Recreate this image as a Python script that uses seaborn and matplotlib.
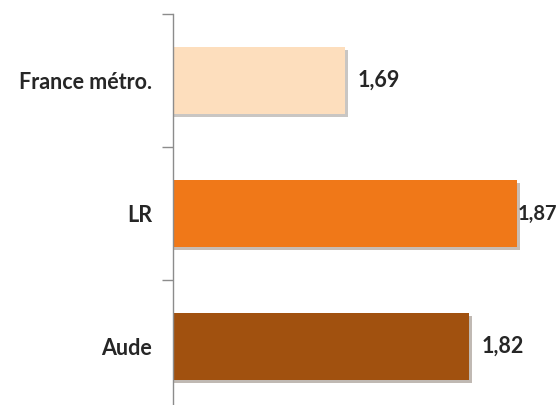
import matplotlib
matplotlib.use("Agg")
import matplotlib.pyplot as plt
import matplotlib.patheffects as pe
import seaborn as sns

# données
categories = ["France métro.", "LR", "Aude"]
values = [1.69, 1.87, 1.82]
value_labels = ["1,69", "1,87", "1,82"]
colors = ["#FDDEBD", "#F07818", "#A1510F"]

sns.set_style("white")
plt.rcParams["font.family"] = ["Lato", "DejaVu Sans"]

fig = plt.figure(figsize=(5.59, 4.05), dpi=100)
ax = fig.add_axes([173 / 559, -8 / 405, 386 / 559, 399 / 405])

sns.barplot(x=values, y=categories, hue=categories, palette=colors,
            legend=False, orient="h", width=0.5, ax=ax, saturation=1,
            edgecolor="none", linewidth=0)

# ombre portée sous les barres
for bar in ax.patches:
    bar.set_path_effects([pe.SimplePatchShadow(offset=(2, -2), alpha=0.3),
                          pe.Normal()])

ax.set_xlim(1.51, 1.51 + 386 / 955)
ax.set_ylim(2.5, -0.5)

# graduations aux limites des catégories, libellés au centre
ax.set_yticks([-0.5, 0.5, 1.5, 2.5])
ax.set_yticklabels([])
ax.set_yticks(range(len(categories)), minor=True)
ax.set_yticklabels(categories, minor=True, fontsize=15.5, fontweight="bold")
ax.tick_params(axis="y", which="major", length=8, width=1, color="#8c8c8c",
               direction="out", left=True)
ax.tick_params(axis="y", which="minor", length=0, pad=15)
ax.set_xticks([])
ax.set_xlabel("")
ax.set_ylabel("")

for side in ["top", "right", "bottom"]:
    ax.spines[side].set_visible(False)
ax.spines["left"].set_color("#8c8c8c")
ax.spines["left"].set_linewidth(1)

# étiquettes de valeurs
pads = [9, 0.5, 9]
sizes = [15.5, 14.5, 15.5]
for i, (v, lab) in enumerate(zip(values, value_labels)):
    ax.annotate(lab, xy=(v, i), xytext=(pads[i], 0), textcoords="offset points",
                va="center", ha="left", fontsize=sizes[i], fontweight="bold",
                annotation_clip=False)

fig.savefig("out.png", dpi=100)
